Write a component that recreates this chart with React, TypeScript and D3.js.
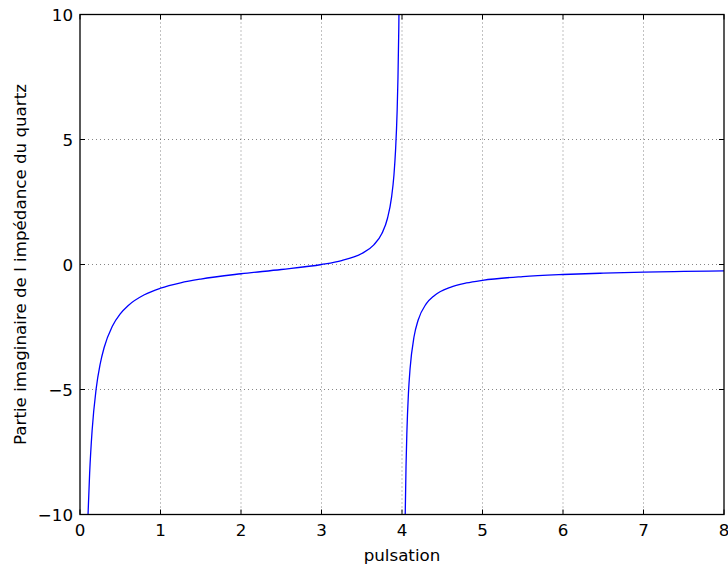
import React, { useEffect, useRef } from "react";
import * as d3 from "d3";

// branche avant la resonance parallele
const omegaLow = [0.1, 0.12, 0.15, 0.2, 0.25, 0.3, 0.4, 0.5, 0.6, 0.8, 1.0, 1.25, 1.5, 2.0, 2.5, 3.0, 3.25, 3.5, 3.65, 3.75, 3.82, 3.87, 3.9, 3.92, 3.94, 3.95, 3.96, 3.965];
const reactLow = [-9.99, -8.33, -6.66, -4.99, -3.99, -3.32, -2.48, -1.975, -1.637, -1.21, -0.948, -0.733, -0.582, -0.37, -0.2, 0.0, 0.157, 0.44, 0.786, 1.239, 1.849, 2.684, 3.583, 4.575, 6.179, 7.476, 9.421, 10.81];

// branche apres la resonance parallele
const omegaHigh = [4.035, 4.04, 4.05, 4.06, 4.08, 4.1, 4.15, 4.2, 4.3, 4.4, 4.6, 4.8, 5.0, 5.5, 6.0, 6.5, 7.0, 7.5, 8.0];
const reactHigh = [-11.41, -10.02, -8.07, -6.78, -5.15, -4.18, -2.88, -2.23, -1.576, -1.246, -0.911, -0.739, -0.632, -0.482, -0.4, -0.346, -0.308, -0.278, -0.255];

const xTicks = [0, 1, 2, 3, 4, 5, 6, 7, 8];
const yTicks = [-10, -5, 0, 5, 10];

const W = 728, H = 567;
const margin = { top: 14.5, right: 4, bottom: 52.5, left: 80 };

const App = () => {
  const ref = useRef<SVGSVGElement>(null);

  useEffect(() => {
    const svg = d3.select(ref.current);
    svg.selectAll("*").remove();

    const iw = W - margin.left - margin.right;
    const ih = H - margin.top - margin.bottom;

    const x = d3.scaleLinear().domain([0, 8]).range([0, iw]);
    const y = d3.scaleLinear().domain([-10, 10]).range([ih, 0]);

    svg.append("defs").append("clipPath").attr("id", "plotclip")
      .append("rect").attr("width", iw).attr("height", ih);

    const g = svg.append("g")
      .attr("transform", "translate(" + margin.left + "," + margin.top + ")");

    // grille pointillee
    const grid = g.append("g").attr("stroke", "#000").attr("stroke-width", 0.6)
      .attr("stroke-dasharray", "1,3").attr("opacity", 0.8);
    xTicks.slice(1, -1).forEach(t => {
      grid.append("line").attr("x1", x(t)).attr("x2", x(t)).attr("y1", 0).attr("y2", ih);
    });
    yTicks.slice(1, -1).forEach(t => {
      grid.append("line").attr("x1", 0).attr("x2", iw).attr("y1", y(t)).attr("y2", y(t));
    });

    // les deux branches de la courbe
    const curves = g.append("g").attr("clip-path", "url(#plotclip)");
    [[omegaLow, reactLow], [omegaHigh, reactHigh]].forEach(([ws, xs]) => {
      const pts: [number, number][] = ws.map((w, i) => [x(w), y(xs[i])]);
      curves.append("path")
        .attr("d", d3.line().curve(d3.curveMonotoneX)(pts))
        .attr("fill", "none")
        .attr("stroke", "#0000ff")
        .attr("stroke-width", 1.3);
    });

    // ticks interieurs sur les 4 cotes
    const tl = 5;
    const ticks = g.append("g").attr("stroke", "#000").attr("stroke-width", 1);
    xTicks.forEach(t => {
      ticks.append("line").attr("x1", x(t)).attr("x2", x(t)).attr("y1", ih).attr("y2", ih - tl);
      ticks.append("line").attr("x1", x(t)).attr("x2", x(t)).attr("y1", 0).attr("y2", tl);
    });
    yTicks.forEach(t => {
      ticks.append("line").attr("x1", 0).attr("x2", tl).attr("y1", y(t)).attr("y2", y(t));
      ticks.append("line").attr("x1", iw).attr("x2", iw - tl).attr("y1", y(t)).attr("y2", y(t));
    });

    g.append("rect").attr("width", iw).attr("height", ih)
      .attr("fill", "none").attr("stroke", "#000").attr("stroke-width", 1.3);

    const font = "'DejaVu Sans', sans-serif";
    const fs = 16.7;
    const fmt = (v: number) => (v < 0 ? "\u2212" + Math.abs(v) : String(v));

    xTicks.forEach(t => {
      g.append("text").attr("x", x(t)).attr("y", ih + 21)
        .attr("text-anchor", "middle").attr("font-family", font).attr("font-size", fs)
        .text(fmt(t));
    });
    yTicks.forEach(t => {
      g.append("text").attr("x", -7).attr("y", y(t) + 6)
        .attr("text-anchor", "end").attr("font-family", font).attr("font-size", fs)
        .text(fmt(t));
    });

    g.append("text").attr("x", iw / 2).attr("y", ih + 46)
      .attr("text-anchor", "middle").attr("font-family", font).attr("font-size", fs)
      .text("pulsation");

    g.append("text")
      .attr("transform", "translate(" + (-54) + "," + (ih / 2) + ") rotate(-90)")
      .attr("text-anchor", "middle").attr("font-family", font).attr("font-size", fs)
      .text("Partie imaginaire de l imp\u00e9dance du quartz");
  }, []);

  return <svg ref={ref} width={W} height={H} style={{ display: "block", position: "absolute", left: 0, top: 0 }} />;
};

export default App;
